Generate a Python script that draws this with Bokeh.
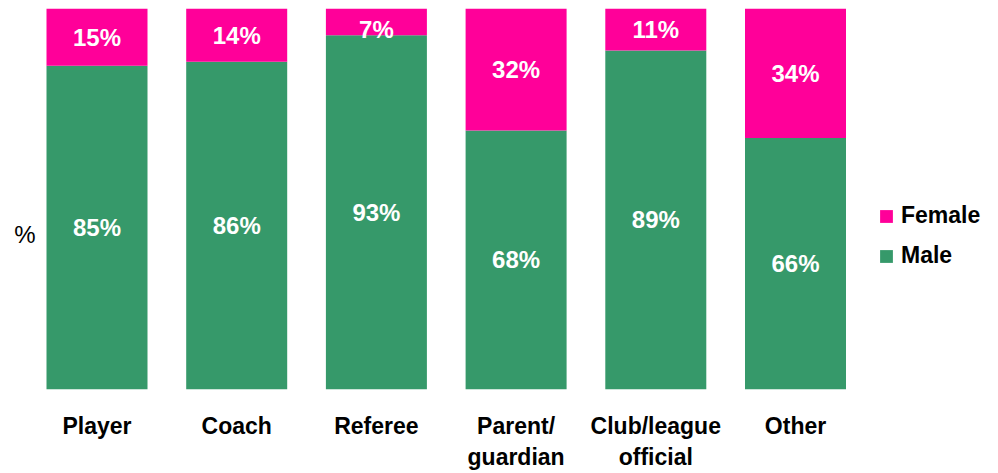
from bokeh.plotting import figure
from bokeh.models import (ColumnDataSource, Range1d, FixedTicker, Legend, LegendItem, Label)
from bokeh.core.properties import value
from bokeh.embed import file_html
from bokeh.resources import INLINE

categories = ["Player", "Coach", "Referee", "Parent/\nguardian", "Club/league\nofficial", "Other"]
male = [85, 86, 93, 68, 89, 66]
female = [15, 14, 7, 32, 11, 34]

GREEN = "#36996A"
PINK = "#FF0099"
FONT = "Liberation Sans"

idx = list(range(len(categories)))
male_top = male
female_top = [m + f for m, f in zip(male, female)]
male_lbl_y = [m / 2 for m in male]
female_lbl_y = [min(m + f / 2, 94.5) for m, f in zip(male, female)]

src = ColumnDataSource(dict(
    x=idx, male=male, female=female,
    male_top=male_top, female_top=female_top,
    male_lbl_y=male_lbl_y, female_lbl_y=female_lbl_y,
    male_txt=[f"{v}%" for v in male], female_txt=[f"{v}%" for v in female],
))

W, H = 998, 473
px_per_unit = 139.7
x_start = -96.5 / px_per_unit
x_end = x_start + W / px_per_unit

p = figure(width=W, height=H, output_backend="svg", toolbar_location=None,
           x_range=Range1d(x_start, x_end), y_range=Range1d(0, 100),
           min_border_left=0, min_border_right=0, min_border_top=8, min_border_bottom=83)
p.outline_line_color = None
p.grid.visible = False
p.yaxis.visible = False
p.background_fill_color = "white"

bw = 101 / px_per_unit
r_male = p.vbar(x="x", bottom=0, top="male_top", width=bw, source=src,
                fill_color=GREEN, line_color=None)
r_female = p.vbar(x="x", bottom="male_top", top="female_top", width=bw, source=src,
                  fill_color=PINK, line_color=None)

for ycol, tcol in (("male_lbl_y", "male_txt"), ("female_lbl_y", "female_txt")):
    p.text(x="x", y=ycol, text=tcol, source=src, text_color="white",
           text_font=value(FONT), text_font_style="bold", text_font_size="24px",
           text_align="center", text_baseline="middle")

ax = p.xaxis[0]
ax.ticker = FixedTicker(ticks=idx)
ax.major_label_overrides = {i: c for i, c in zip(idx, categories)}
ax.axis_line_color = None
ax.major_tick_line_color = None
ax.minor_tick_line_color = None
ax.major_tick_out = 0
ax.major_tick_in = 0
ax.major_label_standoff = 23
ax.major_label_text_font = FONT
ax.major_label_text_font_style = "bold"
ax.major_label_text_font_size = "23px"
ax.major_label_text_color = "black"
ax.major_label_text_line_height = 1.22

legend = Legend(items=[LegendItem(label="Female", renderers=[r_female]),
                       LegendItem(label="Male", renderers=[r_male])],
                location=(878, 120), orientation="vertical",
                glyph_width=16, glyph_height=16, label_standoff=7,
                label_text_font=FONT, label_text_font_style="bold",
                label_text_font_size="23px", label_text_color="black",
                spacing=13, padding=0, margin=0,
                border_line_color=None, background_fill_alpha=0)
p.add_layout(legend)

p.add_layout(Label(x=24.5, y=155, x_units="screen", y_units="screen", text="%",
                   text_font=FONT, text_font_size="24px", text_color="black",
                   text_align="center", text_baseline="middle"))

open("out.html", "w").write(file_html(p, INLINE))
